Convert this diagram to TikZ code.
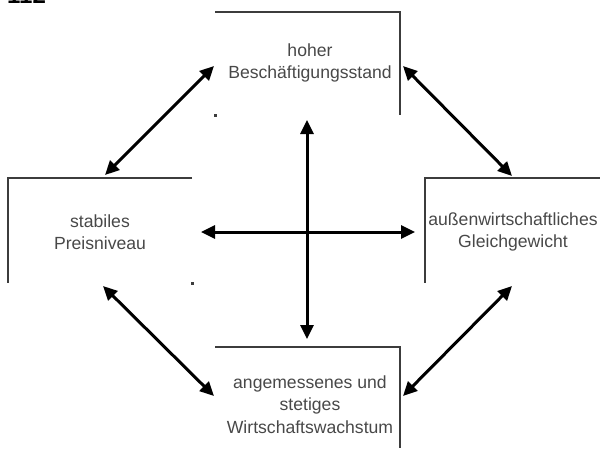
\documentclass[tikz,border=0pt]{standalone}
\usepackage{fontspec}
\setmainfont{Liberation Sans}
\usetikzlibrary{arrows.meta}
\definecolor{boxgray}{HTML}{3C3C3C}
\definecolor{txtgray}{HTML}{484848}
\begin{document}
\begin{tikzpicture}[x=1pt,y=-1pt,
  border/.style={draw=boxgray,line width=2.2pt},
  lbl/.style={text=txtgray,align=center,font=\fontsize{17.6}{22.5}\selectfont,inner sep=0pt},
  dbl/.style={line width=3pt,{Triangle[length=14pt,width=13pt]}-{Triangle[length=14pt,width=13pt]}},
  dotmark/.style={fill=boxgray}]
\useasboundingbox (0,0) rectangle (600,448);
% partially visible page number
\node[anchor=base west,inner sep=0pt,font=\fontsize{24}{24}\selectfont\bfseries] (num) at (7,3) {112};
% box borders
\draw[border] (215,12) -- (400,12) -- (400,115);
\draw[border] (192,178) -- (8,178) -- (8,283);
\draw[border] (600,178) -- (425,178) -- (425,283);
\draw[border] (215,347) -- (400,347) -- (400,448);
\fill[dotmark] (214,114) rectangle (216.5,116.5);
\fill[dotmark] (191,282) rectangle (193.5,284.5);
% labels
\node[lbl] (top) at (310,63) {hoher\\Beschäftigungsstand};
\node[lbl] (left) at (100,232) {stabiles\\Preisniveau};
\node[lbl] (right) at (513,232) {außenwirtschaftliches\\Gleichgewicht};
\node[lbl] (bottom) at (310,404.5) {angemessenes und\\stetiges\\Wirtschaftswachstum};
% arrow end points
\coordinate (vt) at (307,120);
\coordinate (vb) at (307,339);
\coordinate (hl) at (201,232);
\coordinate (hr) at (415,232);
\coordinate (tl1) at (214,66);
\coordinate (tl2) at (105,175);
\coordinate (tr1) at (403,66);
\coordinate (tr2) at (512,176);
\coordinate (bl1) at (103,286);
\coordinate (bl2) at (214,396);
\coordinate (br1) at (512,286);
\coordinate (br2) at (403,396);
% arrows
\draw[dbl] (vt) -- (vb);
\draw[dbl] (hl) -- (hr);
\draw[dbl] (tl1) -- (tl2);
\draw[dbl] (tr1) -- (tr2);
\draw[dbl] (bl1) -- (bl2);
\draw[dbl] (br1) -- (br2);
\end{tikzpicture}
\end{document}
